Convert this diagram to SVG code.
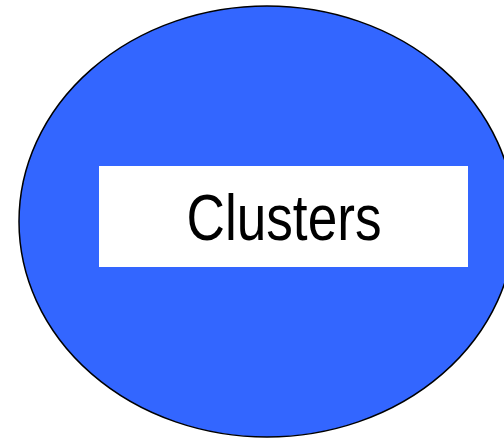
<svg xmlns="http://www.w3.org/2000/svg" width="504" height="439" viewBox="0 0 504 439">
  <style>
    .blob { fill: #3366ff; stroke: #000; stroke-width: 1.5; }
    .box { fill: #fff; stroke: none; }
    .label { font-family: "Liberation Sans Narrow", "Arial Narrow", "Liberation Sans", Arial, sans-serif; font-size: 65px; fill: #000; }
  </style>
  <rect width="504" height="439" fill="#fff"/>
  <g id="clusters">
    <ellipse class="blob" cx="267" cy="221.5" rx="248" ry="215.5"/>
    <rect class="box" x="99" y="166" width="369" height="101"/>
    <text class="label" x="284" y="240" text-anchor="middle" textLength="195" lengthAdjust="spacingAndGlyphs">Clusters</text>
  </g>
  <g id="connectors"/>
</svg>
